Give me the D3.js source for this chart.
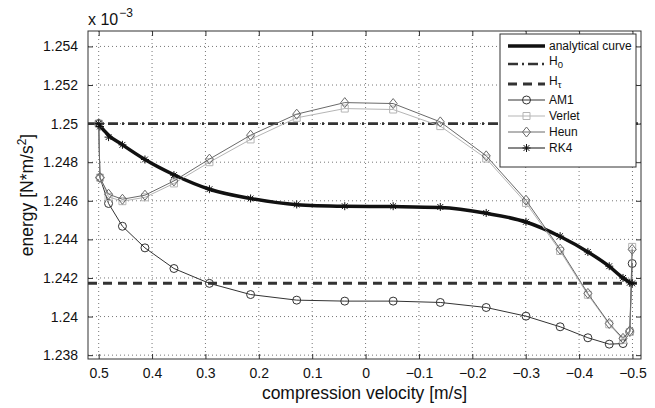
<!DOCTYPE html>
<html>
<head>
<meta charset="utf-8">
<script src="https://d3js.org/d3.v7.min.js"></script>
<style>
  body { margin: 0; background: #fff; }
  text { font-family: "Liberation Sans", Arial, sans-serif; fill: #111; }
</style>
</head>
<body>
<script>
// Energy vs compression velocity (values in units of 1e-3)

// sample velocities shared by the numerical schemes
const velocity = [0.5, 0.4976, 0.4815, 0.4555, 0.4133, 0.359, 0.2925, 0.2154, 0.129, 0.039,
  -0.0517, -0.14, -0.226, -0.3005, -0.3645, -0.4165, -0.4565, -0.4823, -0.495, -0.4995];

const analytical = [1.25, 1.2499, 1.2494, 1.2489, 1.24814, 1.24735, 1.2466, 1.24612, 1.2458, 1.24572,
  1.2457, 1.24565, 1.24535, 1.2449, 1.24415, 1.24335, 1.2426, 1.242, 1.24178, 1.24172];
const am1 = [1.25, 1.2472, 1.24586, 1.24468, 1.24356, 1.24249, 1.24172, 1.24114, 1.24085, 1.2408,
  1.2408, 1.24073, 1.24047, 1.24002, 1.23947, 1.2389, 1.23857, 1.2386, 1.2392, 1.24275];
const verlet = [1.25, 1.2472, 1.2462, 1.24598, 1.24618, 1.2469, 1.248, 1.24918, 1.2503, 1.25078,
  1.25073, 1.24987, 1.24819, 1.24589, 1.2434, 1.24113, 1.2396, 1.2388, 1.2392, 1.24361];
const heun = [1.25, 1.2472, 1.24634, 1.24608, 1.24629, 1.24703, 1.24816, 1.2494, 1.25049, 1.25109,
  1.25104, 1.25009, 1.24833, 1.24603, 1.24349, 1.2412, 1.23964, 1.23887, 1.23926, 1.24348];
const rk4 = [1.25, 1.24985, 1.2493, 1.2489, 1.24814, 1.24733, 1.2466, 1.24612, 1.24581, 1.24572,
  1.24572, 1.24568, 1.24537, 1.24491, 1.24417, 1.24335, 1.24261, 1.242, 1.24175, 1.24172];

const h0 = 1.25;
const hTau = 1.24172;

const xTicks = [0.5, 0.4, 0.3, 0.2, 0.1, 0, -0.1, -0.2, -0.3, -0.4, -0.5];
const yTicks = [1.238, 1.24, 1.242, 1.244, 1.246, 1.248, 1.25, 1.252, 1.254];

const width = 655, height = 408;
const margin = { top: 31, right: 14, bottom: 49, left: 88 };
const w = width - margin.left - margin.right;
const h = height - margin.top - margin.bottom;

const svg = d3.select('body').append('svg')
  .attr('width', width)
  .attr('height', height);

const x = d3.scaleLinear().domain([0.52, -0.516]).range([0, w]);
const y = d3.scaleLinear().domain([1.2378, 1.2548]).range([h, 0]);

const g = svg.append('g').attr('transform', `translate(${margin.left},${margin.top})`);

// dotted grid
g.append('g').selectAll('line').data(xTicks).enter().append('line')
  .attr('x1', d => x(d)).attr('x2', d => x(d))
  .attr('y1', 0).attr('y2', h)
  .attr('stroke', '#777').attr('stroke-width', 1).attr('stroke-dasharray', '1,3');
g.append('g').selectAll('line').data(yTicks).enter().append('line')
  .attr('y1', d => y(d)).attr('y2', d => y(d))
  .attr('x1', 0).attr('x2', w)
  .attr('stroke', '#777').attr('stroke-width', 1).attr('stroke-dasharray', '1,3');

// axes, matlab style: inward ticks on all four sides
const fmt = d3.format('');
const axB = g.append('g').attr('transform', `translate(0,${h})`)
  .call(d3.axisBottom(x).tickValues(xTicks).tickSizeInner(-5).tickSizeOuter(0).tickPadding(9).tickFormat(d => d === 0 ? '0' : fmt(d).replace('-', '\u2212')));
const axT = g.append('g')
  .call(d3.axisTop(x).tickValues(xTicks).tickSizeInner(-5).tickSizeOuter(0).tickFormat(''));
const axL = g.append('g')
  .call(d3.axisLeft(y).tickValues(yTicks).tickSizeInner(-5).tickSizeOuter(0).tickPadding(10).tickFormat(d => fmt(+d.toFixed(3))));
const axR = g.append('g').attr('transform', `translate(${w},0)`)
  .call(d3.axisRight(y).tickValues(yTicks).tickSizeInner(-5).tickSizeOuter(0).tickFormat(''));
[axB, axT, axL, axR].forEach(a => {
  a.select('.domain').remove();
  a.selectAll('line').attr('stroke', '#333');
  a.selectAll('text').style('font-size', '14px').style('fill', '#111')
    .style('font-family', '"Liberation Sans", Arial, sans-serif');
});

g.append('rect')
  .attr('width', w).attr('height', h)
  .attr('fill', 'none').attr('stroke', '#333').attr('stroke-width', 1);

// marker shapes
const markerPath = {
  circle: 'M4,0A4,4 0 1,1 -4,0A4,4 0 1,1 4,0Z',
  square: 'M-3.5,-3.5H3.5V3.5H-3.5Z',
  diamond: 'M0,-5L4,0L0,5L-4,0Z',
  star: 'M0,-4V4M-4,0H4M-2.9,-2.9L2.9,2.9M-2.9,2.9L2.9,-2.9'
};

const line = d3.line().x(d => x(d[0])).y(d => y(d[1]));

// horizontal references
g.append('line')
  .attr('x1', 0).attr('x2', w).attr('y1', y(h0)).attr('y2', y(h0))
  .attr('stroke', '#333').attr('stroke-width', 2.6).attr('stroke-dasharray', '10,4,2,4');
g.append('line')
  .attr('x1', 0).attr('x2', w).attr('y1', y(hTau)).attr('y2', y(hTau))
  .attr('stroke', '#333').attr('stroke-width', 3).attr('stroke-dasharray', '9,6');

// analytical curve
g.append('path')
  .datum(d3.zip(velocity, analytical))
  .attr('d', line.curve(d3.curveMonotoneX))
  .attr('fill', 'none').attr('stroke', '#111').attr('stroke-width', 3.5);

const series = [
  { name: 'AM1', values: am1, color: '#333', marker: 'circle' },
  { name: 'Verlet', values: verlet, color: '#b5b5b5', marker: 'square' },
  { name: 'Heun', values: heun, color: '#6a6a6a', marker: 'diamond' },
  { name: 'RK4', values: rk4, color: '#111', marker: 'star' }
];

const straight = d3.line().x(d => x(d[0])).y(d => y(d[1]));
series.forEach(s => {
  const pts = d3.zip(velocity, s.values);
  g.append('path').datum(pts)
    .attr('d', straight)
    .attr('fill', 'none').attr('stroke', s.color).attr('stroke-width', 1);
  g.append('g').selectAll('path').data(pts).enter().append('path')
    .attr('transform', d => `translate(${x(d[0])},${y(d[1])})`)
    .attr('d', markerPath[s.marker])
    .attr('fill', 'none').attr('stroke', s.color).attr('stroke-width', 1);
});

// legend
const lg = svg.append('g').attr('transform', 'translate(500,34)');
lg.append('rect').attr('width', 136).attr('height', 133)
  .attr('fill', '#fff').attr('stroke', '#333').attr('stroke-width', 1);
const rowY = [12, 30, 50, 66, 82, 98, 114];
const lx1 = 8, lx2 = 45, tx = 49;
const entries = [
  { label: 'analytical curve', color: '#111', width: 3.5, dash: null },
  { label: 'H', sub: '0', color: '#333', width: 2.6, dash: '10,4,2,4' },
  { label: 'H', sub: '\u03c4', color: '#333', width: 3, dash: '9,6' }
].concat(series.map(s => ({ label: s.name, color: s.color, width: 1, dash: null, marker: s.marker })));

entries.forEach((e, i) => {
  const yy = rowY[i];
  lg.append('line').attr('x1', lx1).attr('x2', lx2).attr('y1', yy).attr('y2', yy)
    .attr('stroke', e.color).attr('stroke-width', e.width)
    .attr('stroke-dasharray', e.dash);
  if (e.marker) {
    lg.append('path').attr('transform', `translate(${(lx1 + lx2) / 2},${yy})`)
      .attr('d', markerPath[e.marker])
      .attr('fill', 'none').attr('stroke', e.color);
  }
  const t = lg.append('text').attr('x', tx).attr('y', yy).attr('dy', e.sub ? '0.1em' : '0.35em')
    .style('font-size', '12px');
  t.append('tspan').text(e.label);
  if (e.sub) t.append('tspan').attr('dy', 3).style('font-size', '9.5px').text(e.sub);
});

// axis labels
svg.append('text')
  .attr('x', margin.left + w / 2).attr('y', 399)
  .attr('text-anchor', 'middle').style('font-size', '17.5px')
  .text('compression velocity [m/s]');

const yl = svg.append('text')
  .attr('transform', `translate(33,${margin.top + h / 2}) rotate(-90)`)
  .attr('text-anchor', 'middle').style('font-size', '17.5px');
yl.append('tspan').text('energy [N*m/s');
yl.append('tspan').attr('dy', -7).style('font-size', '12px').text('2');
yl.append('tspan').attr('dy', 7).text(']');

const ex = svg.append('text').attr('x', 88).attr('y', 25).style('font-size', '16px');
ex.append('tspan').text('x 10');
ex.append('tspan').attr('dy', -8).attr('dx', 1).style('font-size', '12px').text('\u22123');
</script>
</body>
</html>
